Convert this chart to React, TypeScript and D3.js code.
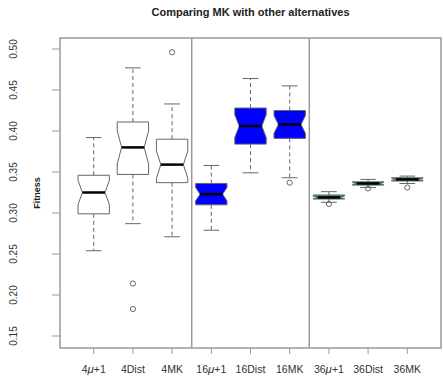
import * as d3 from "d3";

const categories = ["4μ+1", "4Dist", "4MK", "16μ+1", "16Dist", "16MK", "36μ+1", "36Dist", "36MK"];
const whiskerLow = [0.254, 0.287, 0.271, 0.279, 0.349, 0.343, 0.313, 0.331, 0.336];
const q1 = [0.299, 0.347, 0.337, 0.31, 0.384, 0.391, 0.317, 0.334, 0.339];
const median = [0.325, 0.38, 0.359, 0.323, 0.406, 0.408, 0.319, 0.336, 0.341];
const q3 = [0.346, 0.411, 0.39, 0.336, 0.428, 0.425, 0.322, 0.338, 0.343];
const whiskerHigh = [0.392, 0.477, 0.433, 0.358, 0.464, 0.455, 0.326, 0.341, 0.345];
const outliers = [[], [0.214, 0.183], [0.496], [], [], [0.337], [0.311], [0.33], [0.331]];
const sampleSize = 25;
const groupColors = ["white", "white", "white", "#0000ff", "#0000ff", "#0000ff", "#2a9a9a", "#2a9a9a", "#2a9a9a"];
const yTicks = [0.15, 0.2, 0.25, 0.3, 0.35, 0.4, 0.45, 0.5];
const separators = [3.5, 6.5];

const W = 443;
const H = 378;
const left = 60, right = 441, top = 38, bottom = 348;
const frameColor = "#999";
const lineColor = "#666";
const font = "'Liberation Sans', Arial, Helvetica, sans-serif";

export default function App() {
  const x = d3.scaleLinear().domain([0.14, 9.86]).range([left, right]);
  const y = d3.scaleLinear().domain([0.15, 0.5]).range([336, 49]);
  const step = x(2) - x(1);
  const half = step * 0.4;
  const notchIn = half * 0.72;

  const label = (s: string) => {
    const parts = s.split("μ");
    if (parts.length === 1) return s;
    return (
      <>
        {parts[0]}
        <tspan fontStyle="italic" fontSize="11.5">μ</tspan>
        {parts[1]}
      </>
    );
  };

  return (
    <svg width={W} height={H} style={{ position: "absolute", left: 0, top: 0, background: "white" }} fontFamily={font}>
      <text x={(left + right) / 2} y={16} textAnchor="middle" fontWeight="bold" fontSize="11" fill="#222">
        Comparing MK with other alternatives
      </text>

      {/* boxes */}
      {categories.map((c, i) => {
        const cx = x(i + 1);
        const iqr = q3[i] - q1[i];
        const nLo = median[i] - (1.58 * iqr) / Math.sqrt(sampleSize);
        const nHi = median[i] + (1.58 * iqr) / Math.sqrt(sampleSize);
        const pts: [number, number][] = [
          [cx - half, y(q1[i])],
          [cx + half, y(q1[i])],
          [cx + half, y(nLo)],
          [cx + notchIn, y(median[i])],
          [cx + half, y(nHi)],
          [cx + half, y(q3[i])],
          [cx - half, y(q3[i])],
          [cx - half, y(nHi)],
          [cx - notchIn, y(median[i])],
          [cx - half, y(nLo)],
        ];
        const path = d3.line()(pts) + "Z";
        return (
          <g key={c}>
            <line x1={cx} x2={cx} y1={y(q3[i])} y2={y(whiskerHigh[i])} stroke={lineColor} strokeDasharray="4,3" />
            <line x1={cx} x2={cx} y1={y(q1[i])} y2={y(whiskerLow[i])} stroke={lineColor} strokeDasharray="4,3" />
            <line x1={cx - half / 2} x2={cx + half / 2} y1={y(whiskerHigh[i])} y2={y(whiskerHigh[i])} stroke={lineColor} />
            <line x1={cx - half / 2} x2={cx + half / 2} y1={y(whiskerLow[i])} y2={y(whiskerLow[i])} stroke={lineColor} />
            <path d={path} fill={groupColors[i]} stroke={lineColor} strokeWidth={1} />
            <line x1={cx - notchIn} x2={cx + notchIn} y1={y(median[i])} y2={y(median[i])} stroke="#000" strokeWidth={2.5} />
            {outliers[i].map((o, j) => (
              <circle key={j} cx={cx} cy={y(o)} r={2.6} fill="none" stroke={lineColor} />
            ))}
          </g>
        );
      })}

      {separators.map((s) => (
        <line key={s} x1={x(s)} x2={x(s)} y1={top} y2={bottom} stroke={frameColor} strokeWidth={1.5} />
      ))}

      <rect x={left} y={top} width={right - left} height={bottom - top} fill="none" stroke={frameColor} strokeWidth={1.5} />

      {/* y axis */}
      {yTicks.map((t) => (
        <g key={t}>
          <line x1={left - 8} x2={left} y1={y(t)} y2={y(t)} stroke={frameColor} />
          <text
            transform={`translate(17,${y(t)}) rotate(-90)`}
            textAnchor="middle"
            fontSize="10"
            fill="#333"
          >
            {t.toFixed(2)}
          </text>
        </g>
      ))}
      <text transform={`translate(40,${(top + bottom) / 2}) rotate(-90)`} textAnchor="middle" fontSize="9" fontWeight="bold" fill="#222">
        Fitness
      </text>

      {/* x axis */}
      {categories.map((c, i) => (
        <g key={c}>
          <line x1={x(i + 1)} x2={x(i + 1)} y1={bottom} y2={bottom + 6} stroke={frameColor} />
          <text x={x(i + 1)} y={373} textAnchor="middle" fontSize="10.5" fill="#333">
            {label(c)}
          </text>
        </g>
      ))}
    </svg>
  );
}
